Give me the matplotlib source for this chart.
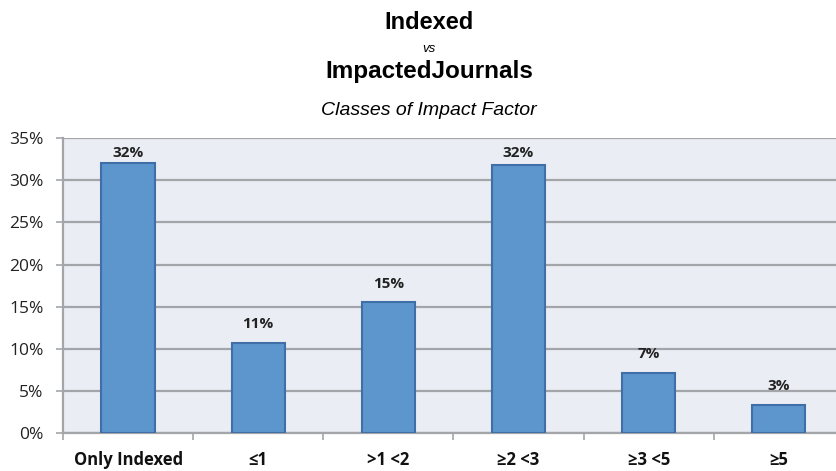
import numpy as np
import matplotlib.pyplot as plt
from matplotlib.ticker import FuncFormatter, FixedLocator

# impact factor classes and share of journals (%)
classes = ['Only Indexed', '≤1', '>1 <2', '≥2 <3', '≥3 <5', '≥5']
shares = [32.0, 10.7, 15.5, 31.8, 7.1, 3.3]
labels = ['32%', '11%', '15%', '32%', '7%', '3%']

bar_color = '#5d95cd'
edge_color = '#3f6fa6'
grid_color = '#a3a5a8'
panel_color = '#eaeef4'
fonts = ['Open Sans', 'DejaVu Sans']

fig = plt.figure(figsize=(8.36, 4.71), dpi=100)
ax = fig.add_axes([0.0754, 0.0807, 0.934, 0.626])

x = np.arange(len(classes))
ax.bar(x, shares, width=0.41, color=bar_color, edgecolor=edge_color, linewidth=1.5, zorder=3)

# value labels sit above the bars but stay inside the plot area
for xi, v, lab in zip(x, shares, labels):
    ax.text(xi, min(v + 1.4, 32.4), lab, ha='center', va='bottom', fontsize=11,
            fontweight='bold', family=fonts, color='#222222')

ax.set_xlim(-0.5, 5.5)
ax.set_ylim(0, 35)
ax.set_facecolor(panel_color)

ax.set_yticks(np.arange(0, 36, 5))
ax.yaxis.set_major_formatter(FuncFormatter(lambda v, p: f'{v:.0f}%'))
ax.yaxis.grid(True, color=grid_color, linewidth=1.6, zorder=1)
ax.set_axisbelow(True)

ax.set_xticks(x)
ax.set_xticklabels(classes, fontweight='bold', fontsize=12, family=fonts, color='#111111')
ax.xaxis.set_minor_locator(FixedLocator(np.arange(-0.5, 6, 1)))
ax.tick_params(axis='x', which='major', length=0, pad=13)
ax.tick_params(axis='x', which='minor', length=5, width=1.2, color=grid_color, direction='out')
ax.tick_params(axis='y', length=5, width=1.2, color=grid_color, direction='out', pad=9)
for t in ax.get_yticklabels():
    t.set_family(fonts)
    t.set_fontsize(12.5)
    t.set_color('#222222')

for side in ['top', 'right']:
    ax.spines[side].set_visible(False)
for side in ['left', 'bottom']:
    ax.spines[side].set_color(grid_color)
    ax.spines[side].set_linewidth(1.6)

# stacked titles
fig.text(0.513, 0.953, 'Indexed', ha='center', va='center', fontsize=17, fontweight='bold',
         family='Liberation Sans')
fig.text(0.513, 0.895, 'vs', ha='center', va='center', fontsize=9.5, style='italic',
         family='Liberation Sans')
fig.text(0.513, 0.848, 'ImpactedJournals', ha='center', va='center', fontsize=17.5,
         fontweight='bold', family='Liberation Sans')
fig.text(0.513, 0.766, 'Classes of Impact Factor', ha='center', va='center', fontsize=14,
         style='italic', family='Liberation Sans')

fig.savefig('out.png', dpi=100)
